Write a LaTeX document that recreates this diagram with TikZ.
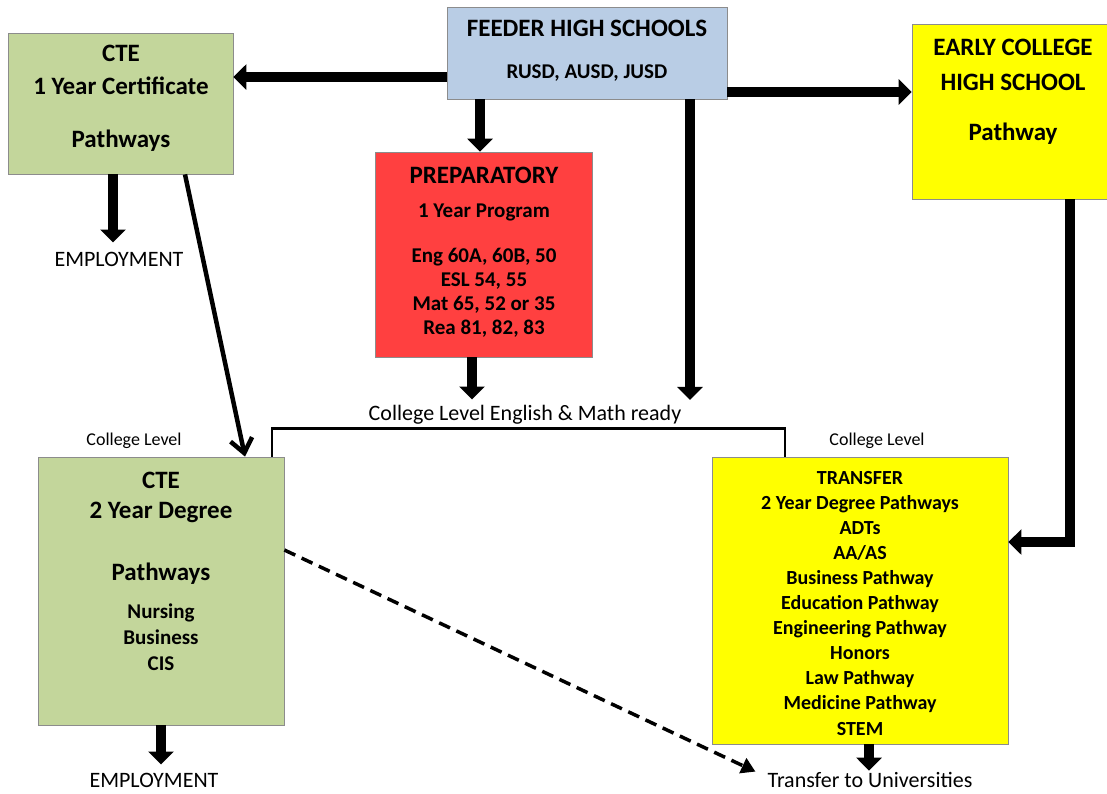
\documentclass[tikz,border=0pt]{standalone}
\usepackage{fontspec}
\setmainfont{Carlito}
\usetikzlibrary{arrows.meta}
\definecolor{ctegreen}{RGB}{195,214,155}
\definecolor{feederblue}{RGB}{185,205,229}
\definecolor{ecyellow}{RGB}{255,255,0}
\definecolor{prepred}{RGB}{255,64,64}
\definecolor{boxgray}{RGB}{140,140,140}
\begin{document}
\begin{tikzpicture}[x=1pt,y=-1pt,
        box/.style={draw=boxgray,line width=0.8pt,inner sep=0pt},
        blk/.style={align=center,inner sep=0pt},
        lbl/.style={anchor=base,inner sep=0pt},
        fat/.style={line width=10pt,-{Triangle[width=25pt,length=13pt]}},
        slim/.style={line width=4.5pt,-{Straight Barb[width=22pt,length=14pt]}},
        bracket/.style={line width=2.8pt},
        dashedarrow/.style={line width=3.5pt,dash pattern=on 12pt off 7pt,-{Triangle[width=16pt,length=14pt]}}]
        \useasboundingbox (0,0) rectangle (1107,793);

        \node[box,fill=ctegreen,minimum width=225,minimum height=141] (cteone) at (120.5,103.5) {};
        \node[box,fill=feederblue,minimum width=280,minimum height=92] (feeder) at (587,53) {};
        \node[box,fill=ecyellow,minimum width=198,minimum height=175] (early) at (1011,111.5) {};
        \node[box,fill=prepred,minimum width=217,minimum height=205] (prep) at (483.5,254.5) {};
        \node[box,fill=ctegreen,minimum width=246,minimum height=268] (ctetwo) at (161,591) {};
        \node[box,fill=ecyellow,minimum width=296,minimum height=287] (transfer) at (860,600.5) {};

        \node[blk,font=\bfseries\fontsize{25}{33}\selectfont] (cteonetxt) at (121,98.5) {CTE\\1 Year Certificate\\[20pt]Pathways};
        \node[lbl,font=\bfseries\fontsize{25}{30}\selectfont] (feedertitle) at (587,36) {FEEDER HIGH SCHOOLS};
        \node[lbl,font=\bfseries\fontsize{21}{25}\selectfont] (feedersub) at (587,78) {RUSD, AUSD, JUSD};
        \node[blk,font=\bfseries\fontsize{25}{35}\selectfont] (earlytxt) at (1013,92) {EARLY COLLEGE\\HIGH SCHOOL\\[15pt]Pathway};
        \node[lbl,font=\bfseries\fontsize{25}{30}\selectfont] (preptitle) at (484,183) {PREPARATORY};
        \node[lbl,font=\bfseries\fontsize{21}{25}\selectfont] (prepsub) at (484,217) {1 Year Program};
        \node[blk,font=\bfseries\fontsize{21}{24}\selectfont] (preplist) at (484,292.7) {Eng 60A, 60B, 50\\ESL 54, 55\\Mat 65, 52 or 35\\Rea 81, 82, 83};
        \node[blk,font=\bfseries\fontsize{25}{30}\selectfont] (ctetwotxt) at (161,528.5) {CTE\\2 Year Degree\\[32pt]Pathways};
        \node[blk,font=\bfseries\fontsize{21}{26}\selectfont] (ctetwolist) at (161,637) {Nursing\\Business\\CIS};
        \node[blk,font=\bfseries\fontsize{20}{25.1}\selectfont] (transfertxt) at (860,603) {TRANSFER\\2 Year Degree Pathways\\ADTs\\AA/AS\\Business Pathway\\Education Pathway\\Engineering Pathway\\Honors\\Law Pathway\\Medicine Pathway\\STEM};

        \node[lbl,font=\fontsize{22}{26}\selectfont] (empone) at (119,266) {EMPLOYMENT};
        \node[lbl,font=\fontsize{22}{26}\selectfont] (emptwo) at (154,787) {EMPLOYMENT};
        \node[lbl,font=\fontsize{22}{26}\selectfont] (univ) at (870,787) {Transfer to Universities};
        \node[lbl,font=\fontsize{22}{26}\selectfont] (ready) at (525,420) {College Level English \& Math ready};
        \node[lbl,font=\fontsize{18}{22}\selectfont] (levelone) at (134,445) {College Level};
        \node[lbl,font=\fontsize{18}{22}\selectfont] (leveltwo) at (877,445) {College Level};

        \coordinate (fl) at ([yshift=-24pt]feeder.west);
        \coordinate (fp) at ([xshift=-3.5pt]prep.north);
        \coordinate (fr) at ([xshift=103pt]feeder.south);
        \coordinate (fe) at ([yshift=-39pt]feeder.east);
        \coordinate (et) at ([xshift=59pt]early.south);
        \coordinate (te) at ([yshift=58.5pt]transfer.east);
        \coordinate (ce) at ([xshift=-7.5pt]cteone.south);
        \coordinate (pr) at ([xshift=-11.5pt]prep.south);
        \coordinate (tu) at ([xshift=9pt]transfer.south);

        \draw[fat] (fl) -- (fl -| cteone.east);
        \draw[fat] (fp |- feeder.south) -- (fp);
        \draw[fat,shorten >=4.6pt] (fr) -- (fr |- ready.north);
        \draw[fat] (fe) -- (fe -| early.west);
        \draw[fat,line join=miter] (et) |- (te);
        \draw[fat,shorten >=9pt] (ce) -- (ce |- empone.north);
        \draw[slim] ([xshift=64.5pt]cteone.south) -- ([xshift=84pt]ctetwo.north);
        \draw[fat,shorten >=5pt] (pr) -- (pr |- ready.north);
        \draw[bracket] ([xshift=111pt]ctetwo.north) -- ++(0,-28) -| ([xshift=-75pt]transfer.north);
        \draw[fat,shorten >=8pt] (ctetwo.south) -- (ctetwo.south |- emptwo.north);
        \draw[fat,shorten >=1pt] (tu) -- (tu |- univ.north);
        \draw[dashedarrow] ([yshift=41pt]ctetwo.east) -- ([xshift=-12pt]univ.north west);
\end{tikzpicture}
\end{document}
